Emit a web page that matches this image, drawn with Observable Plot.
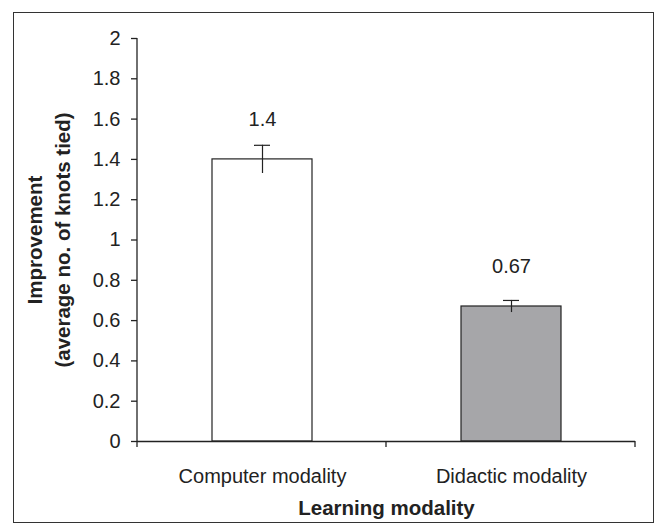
<!DOCTYPE html>
<html>
<head>
<meta charset="utf-8">
<script src="https://cdn.jsdelivr.net/npm/d3@7"></script>
<script src="https://cdn.jsdelivr.net/npm/@observablehq/plot@0.6"></script>
<style>
  body { margin: 0; background: #fff; }
  #wrap { position: relative; width: 656px; height: 532px; }
  #frame { position: absolute; left: 13px; top: 12px; width: 639px; height: 509px; border: 1.5px solid #333; pointer-events: none; }
  svg { font-family: "Liberation Sans", Arial, sans-serif; }
</style>
</head>
<body>
<div id="wrap"><div id="frame"></div></div>
<script>
const categories = ["Computer modality", "Didactic modality"];
const values = [1.4, 0.67];
const errors = [0.07, 0.03];
const valueLabels = ["1.4", "0.67"];
const fills = ["#ffffff", "#a6a6a9"];
const yTicks = [0, 0.2, 0.4, 0.6, 0.8, 1, 1.2, 1.4, 1.6, 1.8, 2];
const yTitle = ["Improvement", "(average no. of knots tied)"];
const xTitle = "Learning modality";

const data = categories.map((c, i) => ({cat: c, value: values[i], err: errors[i], label: valueLabels[i], fill: fills[i]}));

const ink = "#222";

// boundary ticks on the categorical axis
function boundaryTicks(index, scales, values, dims) {
  const g = d3.create("svg:g");
  const left = dims.marginLeft, right = dims.width - dims.marginRight;
  const y0 = dims.height - dims.marginBottom;
  const n = categories.length;
  for (let i = 0; i <= n; i++) {
    const xx = left + i * (right - left) / n;
    g.append("line").attr("x1", xx).attr("x2", xx).attr("y1", y0).attr("y2", y0 + 6)
      .attr("stroke", ink).attr("stroke-width", 1.3);
  }
  return g.node();
}

const chart = Plot.plot({
  width: 656,
  height: 532,
  marginLeft: 137,
  marginRight: 21,
  marginTop: 38,
  marginBottom: 91,
  style: {fontFamily: "'Liberation Sans', Arial, sans-serif", color: ink, background: "transparent"},
  x: {type: "band", domain: categories, paddingInner: 0.6, paddingOuter: 0.3},
  y: {domain: [0, 2]},
  marks: [
    Plot.barY(data, {x: "cat", y: "value", fill: "fill", stroke: ink, strokeWidth: 1.2}),
    Plot.ruleX(data, {x: "cat", y1: d => d.value - d.err, y2: d => d.value + d.err, stroke: ink, strokeWidth: 1.2}),
    Plot.tickY(data, {x: "cat", y: d => d.value + d.err, stroke: ink, strokeWidth: 1.2, insetLeft: 42, insetRight: 42}),
    Plot.text(data, {x: "cat", y: "value", text: "label", dy: -40, fontSize: 20, fill: ink}),
    Plot.ruleY([0], {stroke: ink, strokeWidth: 1.3}),
    Plot.axisY({ticks: yTicks, tickFormat: d3.format("~g"), tickSize: 6, tickPadding: 11, fontSize: 20, label: null, stroke: ink, strokeWidth: 1.3}),
    Plot.axisX({tickSize: 0, tickPadding: 27, fontSize: 20, label: null}),
    boundaryTicks,
    Plot.text([yTitle[0]], {frameAnchor: "left", textAnchor: "middle", text: d => d, rotate: -90, dx: -102, fontSize: 20.5, fontWeight: "bold", fill: ink}),
    Plot.text([yTitle[1]], {frameAnchor: "left", textAnchor: "middle", text: d => d, rotate: -90, dx: -74, fontSize: 20.5, fontWeight: "bold", fill: ink}),
    Plot.text([xTitle], {frameAnchor: "bottom", text: d => d, dy: 73, fontSize: 20.5, fontWeight: "bold", fill: ink})
  ]
});

// vertical y axis line
const svg = d3.select(chart);
svg.append("line").attr("x1", 137).attr("x2", 137).attr("y1", 38).attr("y2", 441)
  .attr("stroke", ink).attr("stroke-width", 1.3);

document.getElementById("wrap").prepend(chart);
</script>
</body>
</html>
